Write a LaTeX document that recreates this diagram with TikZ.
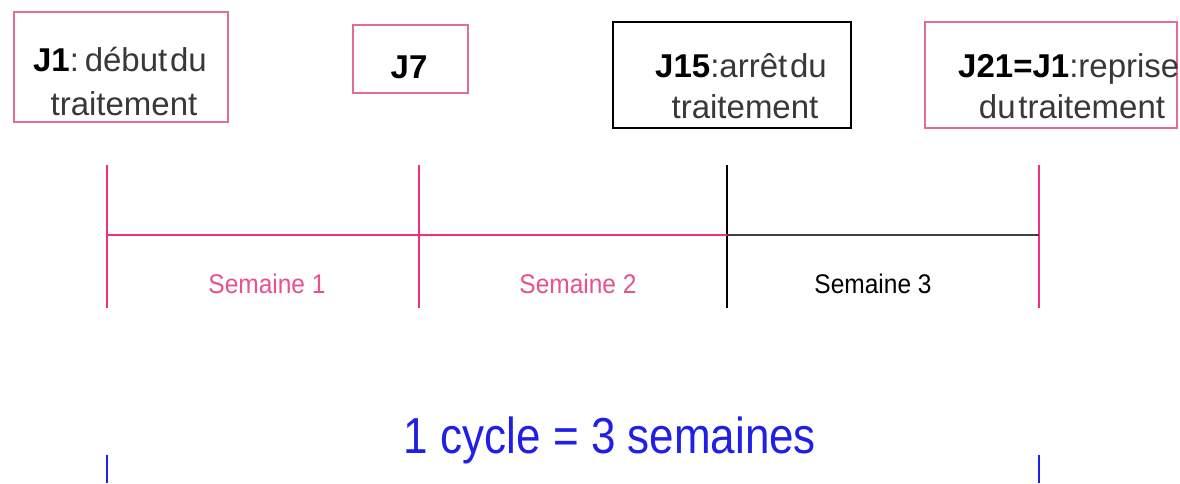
\documentclass[tikz,border=0pt]{standalone}
\usepackage{fontspec}
\setmainfont{Liberation Sans}
\newfontfamily\boxfont[WordSpace=0.3]{Liberation Sans}
\definecolor{boxpink}{HTML}{E46A9A}
\definecolor{linepink}{HTML}{F0307F}
\definecolor{txtpink}{HTML}{E8508E}
\definecolor{txtgray}{HTML}{383838}
\definecolor{linegray}{HTML}{404040}
\definecolor{cycleblue}{HTML}{1F1FE8}
\begin{document}
\begin{tikzpicture}[x=1pt,y=-1pt,
  daybox/.style={draw=#1, line width=1.8pt, fill=white},
  boxtext/.style={font=\boxfont\fontsize{33}{44}\selectfont, text=txtgray, inner sep=0pt},
  tick/.style={line width=1.4pt},
  weeklabel/.style={font=\fontsize{24.5}{26}\selectfont, inner sep=0pt}]
\useasboundingbox (0,0) rectangle (1180,483);
% boxes
\draw[daybox=boxpink] (14,12) rectangle (228,122);
\node[boxtext, anchor=base] (t1) at (120,71) {\textbf{\color{black}J1}: début du};
\node[boxtext, anchor=base] (t1b) at (124,115) {traitement};
\draw[daybox=boxpink] (353,25) rectangle (468,93);
\node[boxtext, anchor=base, text=black] (t7) at (409,78) {\textbf{J7}};
\draw[daybox=black] (613,22) rectangle (851,128);
\node[boxtext, anchor=base] (t15) at (741,77) {\textbf{\color{black}J15}:arrêt du};
\node[boxtext, anchor=base] (t15b) at (745,118) {traitement};
\draw[daybox=boxpink] (925,22) rectangle (1177,128);
\node[boxtext, anchor=base west] (t21) at (958,77) {\textbf{\color{black}J21=J1}:reprise};
\node[boxtext, anchor=base] (t21b) at (1072,118) {du traitement};
% timeline
\coordinate (a) at (107,235);
\coordinate (b) at (419,235);
\coordinate (c) at (727,235);
\coordinate (d) at (1039,235);
\draw[linepink, tick] (107,165) -- (107,308);
\draw[linepink, tick] (419,165) -- (419,308);
\draw[black, tick] (727,165) -- (727,308);
\draw[linepink, tick] (1039,165) -- (1039,308);
\draw[linepink, line width=2.6pt] (a) -- (c);
\draw[linegray, line width=2.6pt] (c) -- (d);
\node[weeklabel, text=txtpink] (s1) at (267,284) {\scalebox{1}[1.1]{Semaine 1}};
\node[weeklabel, text=txtpink] (s2) at (578,284) {\scalebox{1}[1.1]{Semaine 2}};
\node[weeklabel, text=black] (s3) at (873,284) {\scalebox{1}[1.1]{Semaine 3}};
% cycle
\node[font=\fontsize{44}{48}\selectfont, text=cycleblue, inner sep=0pt, anchor=base] (cyc) at (610,453) {\scalebox{1}[1.15]{1 cycle = 3 semaines}};
\draw[cycleblue, tick] (107,455) -- (107,483);
\draw[cycleblue, tick] (1039,455) -- (1039,483);
\end{tikzpicture}
\end{document}
